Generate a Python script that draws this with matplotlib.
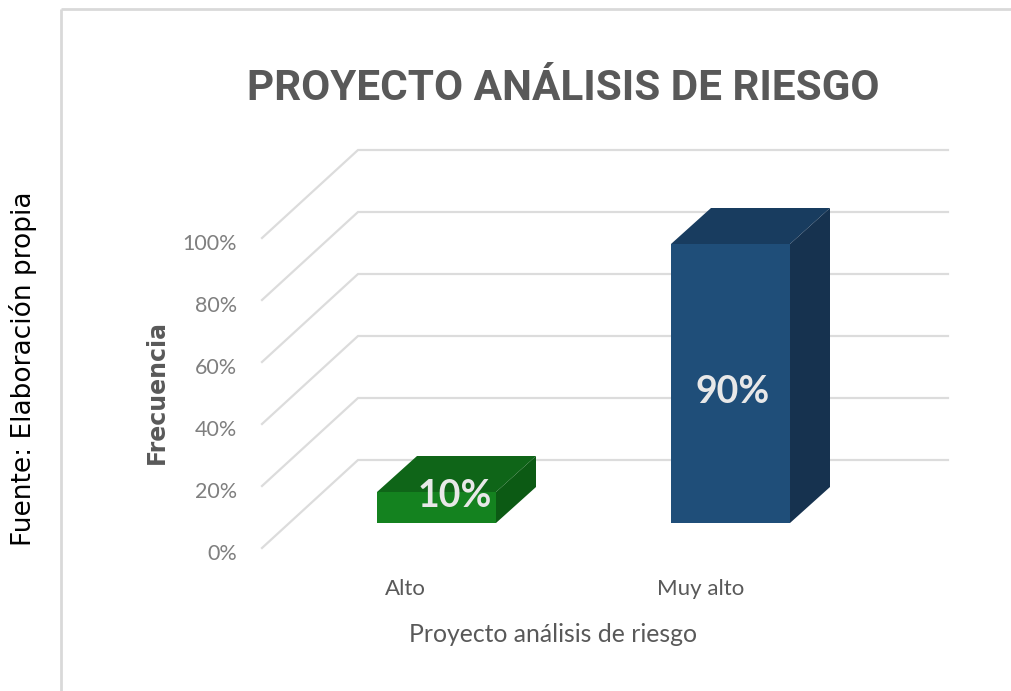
import matplotlib
matplotlib.use("Agg")
import matplotlib.pyplot as plt
from matplotlib.patches import Polygon

categories = ["Alto", "Muy alto"]
values = [10, 90]
value_labels = ["10%", "90%"]
ticks = [0, 20, 40, 60, 80, 100]
tick_labels = ["0%", "20%", "40%", "60%", "80%", "100%"]
title = "PROYECTO ANÁLISIS DE RIESGO"
x_title = "Proyecto análisis de riesgo"
y_title = "Frecuencia"
source = "Fuente: Elaboración propia"
front_colors = ["#14821f", "#1f4e79"]
top_colors = ["#0f6518", "#183c5f"]
side_colors = ["#0c5a14", "#16324f"]

W, H = 1012, 691
K = 3.1          # pixels per percent
BASE = 523       # pixel row of the bars' base
plt.rcParams["font.family"] = ["Lato", "DejaVu Sans"]

fig = plt.figure(figsize=(W / 100, H / 100), dpi=100)
ax = fig.add_axes([0, 0, 1, 1])
ax.set_xlim(0, W)
ax.set_ylim((BASE - H) / K, BASE / K)
ax.axis("off")


def py(p):
    return (BASE - p) / K


GRID = "#d9d9d9"
TXT = "#7f7f7f"

# chart frame
ax.plot([61, W], [py(9)] * 2, color=GRID, lw=2, solid_capstyle="butt")
ax.plot([61, 61], [py(9), py(H)], color=GRID, lw=2, solid_capstyle="butt")

# walls and gridlines
back_off = (BASE - 460) / K
front_off = (BASE - 548) / K
for t, lab in zip(ticks, tick_labels):
    ax.plot([262, 358, 948], [t + front_off, t + back_off, t + back_off],
            color="#dcdcdc", lw=1.6, solid_joinstyle="miter", zorder=1)
    ax.text(237, t + front_off - 1.9, lab, ha="right", va="center",
            fontsize=15.5, color=TXT)

# fake-3D bars
lefts = [377, 671]
width = 119
dx, dy = 40, 36 / K
label_y = [10 - 1.4, 42.4]
label_x = [455, 733]
for i, v in enumerate(values):
    l, r = lefts[i], lefts[i] + width
    ax.add_patch(Polygon([(l, 0), (r, 0), (r, v), (l, v)], fc=front_colors[i], ec="none", zorder=3))
    ax.add_patch(Polygon([(l, v), (r, v), (r + dx, v + dy), (l + dx, v + dy)], fc=top_colors[i], ec="none", zorder=3))
    ax.add_patch(Polygon([(r, 0), (r + dx, dy), (r + dx, v + dy), (r, v)], fc=side_colors[i], ec="none", zorder=3))
    ax.text(label_x[i], label_y[i], value_labels[i], ha="center", va="center",
            fontsize=27, fontweight="bold", color="#e8e8e8", zorder=4)

# category labels
ax.text(405, py(589), categories[0], ha="center", va="center", fontsize=16, color="#595959")
ax.text(701, py(589), categories[1], ha="center", va="center", fontsize=16, color="#595959")

# titles
ax.text(563, py(89), title, ha="center", va="center", fontsize=30.4, fontweight="bold", color="#595959",
        family=["Roboto", "Lato"])
ax.text(553, py(635), x_title, ha="center", va="center", fontsize=17.8, color="#595959")
ax.text(157, py(392), y_title, rotation=90, ha="center", va="center", fontsize=17,
        fontweight="bold", color="#595959", family=["DejaVu Sans"])
ax.text(23, py(369), source, rotation=90, ha="center", va="center", fontsize=19,
        color="#000000", family=["DejaVu Sans"])

fig.savefig("out.png", dpi=100, facecolor="white")
